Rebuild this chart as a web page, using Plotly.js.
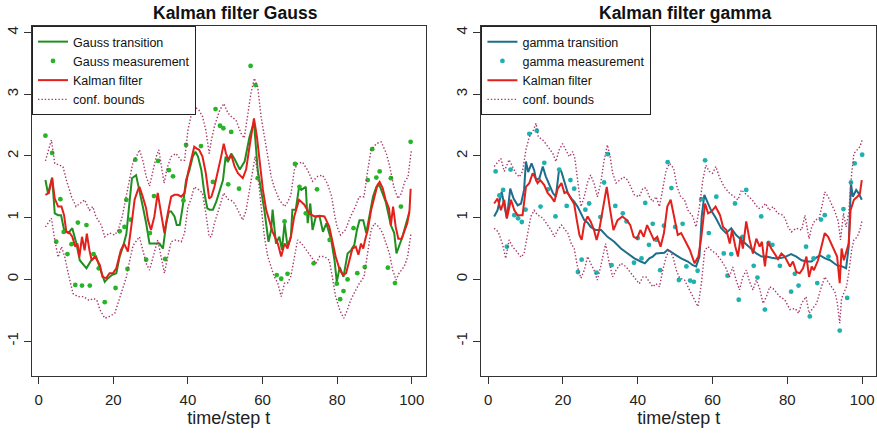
<!DOCTYPE html>
<html>
<head>
<meta charset="utf-8">
<script src="https://cdn.plot.ly/plotly-3.0.1.min.js"></script>
<style>html,body{margin:0;padding:0;background:#fff;}#chart{width:877px;height:433px;}</style>
</head>
<body>
<div id="chart"></div>
<script>
// ---------- Left panel: Gauss ----------
const gaussTransT = [1.8,2.5,3.6,4.3,5.2,6.0,6.8,7.9,9,10.1,11,12.8,14.1,15.4,16.6,17.7,18.6,19.6,20.8,21.7,22.6,23.5,24.4,25,26.1,27,27.9,28.8,29.7,31,32.4,33.3,34.2,34.9,35.5,36.4,37,37.8,38.6,39.5,40.4,41.3,42,42.7,43.6,44.4,45.2,45.8,46.7,47.6,48.5,49.4,50.1,50.7,51.6,52.5,53.9,55.2,56.5,57.7,58.7,59.6,60.5,61.6,62.3,62.7,63.6,64.5,65.2,65.9,66.7,67.6,68,68.9,69.8,70.4,71.6,72.1,72.8,73.4,74.3,75.3,76.2,77.1,78.4,79.3,79.9,80.7,81.7,82.8,83.7,84.6,85.3,86,87,87.8,88.7,89.6,90.5,91.3,92.2,93,94.4,95.3,95.9,96.6,97.5,98.5,99.4];
const gaussTransV = [1.61,1.39,1.65,1.07,1.04,1.04,0.80,0.75,0.83,0.58,0.31,0.18,0.31,0.37,0.15,-0.04,0.02,0.07,0.10,0.37,0.53,0.74,1.29,1.64,1.69,1.45,1.18,0.91,0.58,0.58,0.58,0.50,0.91,1.10,1.10,1.02,0.88,0.88,1.18,1.61,1.77,1.99,2.07,1.99,1.77,1.40,1.15,1.13,1.13,1.26,1.42,1.61,1.99,1.90,2.04,1.95,1.78,1.91,2.31,2.55,1.78,1.45,1.12,0.61,0.80,1.13,0.58,0.69,0.48,0.91,0.53,0.69,1.13,1.13,1.50,1.45,1.50,0.91,1.23,0.80,1.02,1.02,0.77,0.91,0.64,0.31,-0.04,0.20,0.04,0.42,0.47,0.56,0.80,0.96,0.96,0.75,1.07,1.34,1.50,1.53,1.39,1.26,0.88,0.75,0.42,0.53,0.69,0.91,1.09];

const gaussMeasT = [1.8,3.6,4.7,5.8,6.7,7.7,8.8,9.8,10.5,11.6,12.8,13.7,14.7,16.1,17.7,20.6,21.7,23,23.5,23.8,24.6,25.9,28.8,29.8,30.9,32,33.9,34.9,36,38.8,39.5,41.5,43.5,46.7,47.4,48.6,49.5,50.8,51.6,53.7,56.8,58.1,58.7,63.8,65,65.9,66.7,68.7,69.9,71.6,73.7,74.6,78,79.9,80.8,81.7,82.8,84.4,85.4,87.4,88.2,89.4,90.5,91.4,93.6,94.4,95.5,97.1,99.7];
const gaussMeasV = [2.33,2.05,0.61,1.30,0.77,0.41,0.57,-0.09,0.92,-0.10,0.88,-0.10,0.41,0.18,-0.37,-0.14,0.78,0.85,1.29,0.17,0.97,1.94,0.32,0.75,1.35,1.92,0.33,1.77,1.67,1.28,2.18,2.81,2.16,1.58,2.76,2.49,2.45,1.54,2.39,1.47,3.46,3.15,1.64,0.07,0.01,0.94,0.09,1.87,1.50,1.07,0.26,1.46,0.64,-0.07,-0.32,-0.19,0.00,0.83,0.10,0.20,1.61,2.11,1.65,1.75,0.19,1.64,-0.06,1.18,2.23];

const gaussKalT = [1.8,2.7,3.6,4.3,5.2,6.1,6.8,7.4,8.1,9,9.8,10.4,10.9,11.6,12.3,12.9,13.6,14.2,15.1,16.4,17.1,18.1,19,19.9,20.8,22,22.9,23.9,24.8,25.7,26.6,27,27.9,28.8,29.3,30.1,31,31.9,32.8,33.7,34.6,35.5,36.4,37.3,38.2,39.1,40,40.8,41.7,42.4,43,43.9,44.8,45.7,46.3,47.1,48,48.9,49.6,50.2,50.9,51.6,52.5,53.4,54.7,55.6,56.5,57.7,58.5,59.2,60.1,61,61.9,62.7,64.1,65,65.9,66.7,67.6,68.5,69.8,71.2,72.5,73.9,75.3,76.6,77.9,78.7,79.6,80.7,81.6,82.4,83.2,84.1,85,85.7,86.4,87,87.5,88.2,89.1,90,90.8,91.4,92.2,93,93.9,94.4,95,95.7,96.4,97.3,98.2,98.8,99.4,99.7];
const gaussKalV = [1.37,1.40,1.64,1.31,1.18,1.18,1.04,0.77,0.77,0.69,0.53,0.58,0.36,0.69,0.47,0.74,0.47,0.31,0.37,0.23,0.04,0.02,0.10,0.10,0.18,0.47,0.58,0.45,0.85,1.29,1.45,1.50,1.34,1.15,0.96,0.80,1.02,1.40,1.07,0.75,1.07,1.34,1.37,1.37,1.34,1.40,1.72,1.94,2.15,2.12,2.10,1.99,1.72,1.31,1.34,1.50,1.72,1.99,2.20,2.04,1.94,2.02,1.83,1.72,1.64,1.78,2.15,2.61,2.31,1.88,1.45,1.12,0.91,0.77,0.58,0.37,0.58,0.50,0.69,1.02,1.29,1.21,1.07,1.02,1.03,1.02,0.85,0.64,0.37,0.15,0.07,0.10,0.31,0.50,0.53,0.40,0.58,0.50,0.64,0.80,1.12,1.34,1.53,1.58,1.48,1.29,1.15,0.88,1.18,0.85,0.66,0.66,0.80,0.91,1.12,1.47];

const gaussUpT = [1.8,3.4,4.3,6.5,7.4,8.8,10,11,12.3,13.6,14.5,15.3,16.8,17.7,19,20.4,21.3,22.4,23.5,24.4,25.3,26.2,27,27.9,28.8,29.7,30.6,31.5,32.2,32.8,33.6,34.5,35.5,36.8,38.2,39.1,40,40.8,41.7,43,43.9,44.8,45.7,46.3,47.1,48.5,49.6,50.7,51.6,52.9,54.2,55.1,56,56.9,57.8,58.7,59.6,60.3,61.4,62.3,63.1,64.5,65.9,66.7,67.6,68.5,69.4,70.7,72.1,73.4,74.8,76.1,77.4,78.5,79.3,80,80.9,82.2,83.6,84.9,85.9,87.2,88.2,89.1,90.5,91.8,93.2,94.1,95.2,96.3,97.2,98.1,99,99.9];
const gaussUpV = [1.92,2.26,1.88,1.83,1.61,1.34,1.18,1.23,1.29,1.12,1.18,1.02,0.88,0.69,0.75,0.72,0.80,1.02,1.34,1.64,1.91,1.99,2.10,1.93,1.67,1.51,1.77,1.99,2.10,1.88,1.56,1.82,1.99,2.04,1.93,1.93,2.42,2.64,2.80,2.74,2.64,2.42,2.04,2.26,2.48,2.74,2.85,2.70,2.64,2.58,2.37,2.29,2.69,3.02,3.26,3.12,2.64,2.37,1.94,1.67,1.50,1.29,1.18,1.25,1.37,1.77,1.88,1.90,1.77,1.59,1.67,1.69,1.55,1.35,1.05,0.85,0.72,0.80,1.02,1.18,1.34,1.34,1.77,2.10,2.20,2.23,2.04,1.83,1.50,1.31,1.39,1.58,1.66,2.10];

const gaussLoT = [1.8,3.4,4.3,5.2,6.1,7,7.9,9.2,10.5,12,13.5,14.8,15.6,16.4,17.7,19,20.4,21.5,22.6,23.5,24.4,25.3,27,27.9,28.8,29.7,31,31.9,32.8,33.7,34.6,35.5,36.8,38.2,39.1,40,40.8,41.7,43,43.9,44.8,45.7,46.3,47.1,48.5,49.6,50.7,51.6,52.5,53.9,54.7,55.6,56.9,58,58.7,59.6,60.5,61.4,62.3,63.1,64.1,65,65.9,66.7,67.6,68.5,69.4,70.5,71.6,73,74.3,75.3,76.6,77.9,78.7,79.6,80.7,81.8,82.7,83.6,84.5,85.9,87.2,88.2,89.1,90,91.2,92.2,93.1,94,94.9,95.8,96.6,98,98.9,99.8];
const gaussLoV = [0.85,0.99,0.64,0.36,0.53,0.36,0.10,-0.23,-0.28,-0.28,-0.34,-0.31,-0.34,-0.49,-0.63,-0.60,-0.55,-0.34,-0.12,0.04,0.31,0.55,0.69,0.48,0.26,0.15,0.42,0.64,0.37,0.10,0.37,0.61,0.64,0.61,0.75,1.18,1.29,1.50,1.45,1.40,1.07,0.69,0.69,0.91,1.18,1.40,1.30,1.28,1.23,1.07,0.96,1.12,1.56,1.99,1.72,1.18,0.69,0.37,0.21,0.05,-0.06,-0.28,-0.06,-0.06,0.05,0.37,0.64,0.58,0.48,0.37,0.26,0.37,0.37,0.31,0.04,-0.28,-0.50,-0.63,-0.50,-0.34,-0.23,-0.07,0.04,0.42,0.80,0.91,0.85,0.75,0.58,0.42,0.15,-0.01,0.10,0.21,0.37,0.75];

// ---------- Right panel: gamma ----------
const gammaTransT = [1.6,2.5,3.6,4.3,5,5.9,6.8,7.9,8.8,9.6,10.1,10.7,11.6,12.3,12.8,13.7,14.6,15.4,16.4,17.3,18.1,19,19.6,20.4,21.3,22.2,23,23.9,24.8,25.7,26.6,27.4,28.8,30.2,31.9,33.7,35.5,37.3,39.1,40.8,41.9,43.1,44,44.9,46.3,47.1,48,48.9,50.3,51.6,53.4,54.7,55.6,56.5,57.1,57.8,58.7,59.6,60.9,62.3,63.6,65,66.3,67.7,69,70.4,71.7,73.1,74.4,75.8,77.1,78.5,79.3,81,82.4,83.8,85.1,86.5,87.4,88.7,90.1,91.4,93.2,94.6,95.7,96.4,97,97.5,98.4,99.1,99.9];
const gammaTransV = [1.02,1.12,1.42,1.18,0.99,1.47,1.31,1.20,1.23,1.45,1.91,1.74,1.88,1.77,1.61,1.64,1.83,1.67,1.53,1.40,1.34,1.80,1.74,1.58,1.40,1.31,1.26,1.18,1.07,0.96,0.92,0.85,0.80,0.80,0.69,0.61,0.50,0.42,0.34,0.29,0.26,0.34,0.37,0.42,0.42,0.43,0.48,0.45,0.39,0.34,0.29,0.23,0.21,0.37,1.02,1.37,1.23,1.12,0.99,0.83,0.75,0.83,0.72,0.64,0.56,0.48,0.42,0.37,0.37,0.35,0.34,0.35,0.36,0.41,0.37,0.31,0.29,0.29,0.34,0.39,0.34,0.31,0.23,0.21,0.18,0.53,1.56,1.34,1.45,1.39,1.29];

const gammaMeasT = [2,3,4,5,6,7,8,9,10,11,13,14,15,16,18,19,21,22,23,24,25,26,27,29,30,31,32,33,34,36,37,39,40,41,42,43,44,45,46,47,48,49,50,51,52,53,54,55,56,57,58,59,61,63,64,65,66,67,68,69,71,72,73,74,75,76,78,81,82,83,85,86,87,88,89,90,91,94,95,96,97,98,100];
const gammaMeasV = [1.75,1.36,1.45,0.53,1.78,1.04,0.99,0.93,1.13,2.36,2.41,1.18,1.89,1.46,1.02,1.78,1.19,1.61,1.47,0.12,0.32,1.13,1.23,0.11,1.01,1.57,2.03,0.23,1.19,1.07,0.94,0.27,0.67,0.34,1.24,0.56,0.90,0.64,0.15,0.87,1.90,1.48,0.85,-0.01,0.90,0.21,-0.02,-0.04,0.14,1.30,1.93,0.75,1.34,0.42,0.06,0.41,1.23,-0.33,0.69,1.45,0.22,0.03,1.02,-0.49,0.59,0.56,0.22,-0.20,0.09,-0.10,0.53,-0.60,0.34,-0.06,0.97,1.04,0.37,-0.83,1.14,-0.30,1.57,1.88,2.02];

const gammaKalT = [1.6,2.5,3.4,4.3,5,6.1,7,7.9,9.2,10.1,11,11.9,12.5,13.2,13.9,15,15.9,16.8,17.7,18.6,19.6,20.4,21.1,22.2,23,23.7,24.4,25,25.7,26.6,27.4,28.3,29,29.7,30.6,31.7,32.6,33.5,34.6,35.9,37.1,38,38.9,39.8,40.7,41.6,42.5,43.4,44.3,45.2,46.1,47,47.9,48.8,49.7,50.7,51.6,52.5,53.9,55.2,56.2,57,58,58.8,59.7,60.8,62,62.8,63.7,64.6,65.2,66.1,66.8,67.5,68.1,69,69.9,70.8,71.7,72.6,73.2,74,74.8,75.7,76.6,77.5,78.4,79.3,80.7,81.5,82.4,83.3,84.2,85.1,85.8,86.5,87.1,88.2,89.1,90,90.9,91.8,92.7,93.3,94,94.5,95.1,95.8,96.4,96.9,97.8,98.7,99.4,99.9];
const gammaKalV = [1.23,1.31,1.12,1.29,0.99,1.29,1.12,1.04,1.04,1.50,1.56,1.72,1.66,1.56,1.61,1.53,1.40,1.34,1.26,1.47,1.56,1.40,1.42,1.29,1.22,0.96,0.72,0.64,0.90,1.02,0.94,0.80,0.64,0.80,1.13,1.50,1.13,0.80,0.96,1.02,0.96,0.88,0.69,0.66,0.80,0.69,0.88,0.77,0.64,0.69,0.53,0.75,1.18,1.29,1.00,0.72,0.75,0.64,0.48,0.26,0.37,0.69,1.23,1.07,1.10,1.18,1.04,0.85,0.80,0.58,0.80,0.53,0.37,0.69,0.50,0.94,0.64,0.42,0.66,0.53,0.61,0.21,0.61,0.50,0.42,0.33,0.42,0.37,0.21,0.29,0.12,0.10,0.18,0.37,0.04,0.21,0.15,0.31,0.53,0.75,0.69,0.56,0.45,0.37,-0.06,0.50,0.31,0.47,0.58,1.12,1.29,1.34,1.39,1.61];

const gammaUpT = [1.6,3.4,4.3,5.6,6.5,7.4,8.3,9.2,10.1,11,12.1,12.8,13.4,14.6,15.4,16.4,17.3,18.1,19,19.9,20.8,21.7,22.6,23.2,23.9,24.8,25.7,26.6,27.4,28.3,29.2,30.1,31,31.9,32.6,33.3,34.2,35.1,36.2,37.3,38.2,39.1,40.4,41.4,42.2,43.1,44,44.9,45.8,46.7,47.6,48.5,49.6,50.5,51.4,52.5,53.4,54.7,55.6,56.5,57.4,58.2,59.1,60,60.9,61.8,63.1,64.5,65.9,66.8,67.7,68.6,69.6,70.6,71.5,72.4,73.3,74.2,75.1,76.2,77.4,78.5,79.3,80.2,81.1,82.4,83.8,84.7,85.8,86.5,87.4,88.5,89.4,90,90.9,91.8,92.7,93.6,94.2,95,95.7,96.4,97.2,97.8,98.7,99.4,100];
const gammaUpV = [1.83,1.96,1.75,1.94,1.83,1.72,1.66,1.75,2.10,2.31,2.42,2.53,2.31,2.26,2.20,2.12,2.04,1.91,2.10,2.20,2.10,1.99,2.07,1.96,1.61,1.18,1.34,1.58,1.69,1.56,1.34,1.56,1.93,2.18,1.99,1.72,1.56,1.61,1.66,1.61,1.50,1.37,1.34,1.48,1.48,1.34,1.26,1.34,1.18,1.45,1.77,1.88,1.80,1.50,1.35,1.29,1.12,1.02,0.85,1.18,1.61,1.85,1.75,1.72,1.83,1.66,1.50,1.40,1.34,1.29,1.45,1.40,1.34,1.29,1.21,1.15,1.17,1.23,1.12,1.18,1.07,1.05,1.00,0.85,0.77,0.83,0.80,1.04,0.66,0.85,0.96,0.99,1.23,1.42,1.34,1.23,1.10,0.94,0.64,1.07,0.85,1.07,1.72,2.04,2.10,2.15,2.26];

const gammaLoT = [1.6,2.7,3.8,4.7,5.6,6.5,7.4,8.8,9.6,10.5,11.4,12.3,13.2,14.1,15,15.9,16.8,17.7,18.6,19.6,20.5,21.3,22.2,23,23.9,24.8,25.7,26.6,27.4,28.3,29.2,30.1,31.4,32.4,33.3,34.2,35.5,36.8,38.2,39.5,40.4,41.4,42.2,43.1,44,44.9,45.8,46.7,47.6,48.5,49.4,50.3,51.2,52.5,53.9,55.2,56.1,57,57.9,58.8,59.7,60.9,62.3,63.6,64.5,65.4,66.3,67.2,68.1,69,69.9,70.8,71.7,72.6,73.5,74.4,75.3,76.2,77.1,78,79.3,80.7,82.1,83,83.8,85,85.8,86.5,87.8,89.1,90,90.9,91.8,92.7,93.3,94,94.5,95.1,95.8,96.4,97.2,97.8,98.7,99.4,100];
const gammaLoV = [0.83,0.77,0.58,0.34,0.64,0.53,0.47,0.36,0.42,0.75,1.02,1.12,1.04,1.02,0.96,0.88,0.80,0.69,0.80,0.88,0.80,0.75,0.58,0.50,0.20,0.02,0.15,0.37,0.26,0.15,-0.01,0.21,0.58,0.26,0.04,0.15,0.26,0.21,0.10,-0.01,-0.07,0.04,0.04,-0.04,-0.12,-0.07,-0.12,0.15,0.37,0.48,0.37,0.15,0.02,-0.01,-0.17,-0.33,-0.44,-0.07,0.47,0.53,0.47,0.42,0.31,0.18,0.04,0.20,-0.01,-0.17,0.04,0.15,-0.04,-0.17,-0.01,-0.15,-0.39,-0.28,-0.12,-0.15,-0.22,-0.28,-0.33,-0.49,-0.47,-0.55,-0.39,-0.28,-0.55,-0.49,-0.39,-0.12,0.04,-0.04,-0.12,-0.20,-0.36,-0.71,-0.31,-0.23,-0.12,0.10,0.48,0.64,0.69,0.80,0.96];

const xTicks = [0,20,40,60,80,100];
const yTicks = [-1,0,1,2,3,4];
const yTickText = ['-1','0','1','2','3','4'];

// ---------- styling ----------
const FONT = 'Liberation Sans, Arial, Helvetica, sans-serif';
const C = {
  gTrans:'#1f8f1f', gMeas:'#27b427', kal:'#e3201b', bound:'#a8386a',
  bTrans:'#1d6e8c', bMeas:'#1fb0b0'
};
function bounds(upT, upV, loT, loV){
  return {x: upT.concat([null], loT), y: upV.concat([null], loV)};
}
function panel(ax, ay, lg, names, trT, trV, trC, msT, msV, msC, klT, klV, upT, upV, loT, loV){
  const b = bounds(upT, upV, loT, loV);
  return [
    {type:'scatter', mode:'lines', name:names[0], x:trT, y:trV, xaxis:ax, yaxis:ay, legend:lg,
     line:{color:trC, width:2}},
    {type:'scatter', mode:'markers', name:names[1], x:msT, y:msV, xaxis:ax, yaxis:ay, legend:lg,
     marker:{color:msC, size:4.8}},
    {type:'scatter', mode:'lines', name:'Kalman filter', x:klT, y:klV, xaxis:ax, yaxis:ay, legend:lg,
     line:{color:C.kal, width:2}},
    {type:'scatter', mode:'lines', name:'conf. bounds', x:b.x, y:b.y, xaxis:ax, yaxis:ay, legend:lg,
     connectgaps:false, line:{color:C.bound, width:1.4, dash:'1.4px,2px'}}
  ];
}
const data = [].concat(
  panel('x','y','legend',['Gauss transition','Gauss measurement'], gaussTransT, gaussTransV, C.gTrans,
        gaussMeasT, gaussMeasV, C.gMeas, gaussKalT, gaussKalV, gaussUpT, gaussUpV, gaussLoT, gaussLoV),
  panel('x2','y2','legend2',['gamma transition','gamma measurement'], gammaTransT, gammaTransV, C.bTrans,
        gammaMeasT, gammaMeasV, C.bMeas, gammaKalT, gammaKalV, gammaUpT, gammaUpV, gammaLoT, gammaLoV)
);

function xAxis(domain, anchor){
  return {domain:domain, anchor:anchor, range:[-1.8,103.7], tickmode:'array', tickvals:xTicks,
    ticks:'outside', ticklen:7, tickwidth:1, tickcolor:'#333', showline:true, mirror:true,
    linecolor:'#333', linewidth:1, showgrid:false, zeroline:false, fixedrange:true,
    tickfont:{size:15, color:'#222'}, ticklabelstandoff:3,
    title:{text:'time/step t', font:{size:18, color:'#222'}, standoff:4}};
}
function yAxis(anchor){
  return {domain:[0,1], anchor:anchor, range:[-1.566,4.107], tickmode:'array', tickvals:yTicks, ticktext:yTickText,
    tickangle:-90, ticks:'outside', ticklen:7, tickwidth:1, tickcolor:'#333', showline:true, mirror:true,
    linecolor:'#333', linewidth:1, showgrid:false, zeroline:false, fixedrange:true,
    tickfont:{size:15, color:'#222'}};
}
const legendBase = {y:1, yanchor:'top', xanchor:'left', bgcolor:'#fff', bordercolor:'#222', borderwidth:1,
  font:{size:12.5, color:'#111', family:FONT}, tracegroupgap:0, itemwidth:30};

const layout = {
  width:877, height:433,
  margin:{l:32, r:1, t:26, b:57},
  paper_bgcolor:'#fff', plot_bgcolor:'#fff',
  font:{family:FONT, color:'#111'},
  showlegend:true,
  xaxis: xAxis([0,0.4663],'y'),
  yaxis: yAxis('x'),
  xaxis2: xAxis([0.5325,1],'y2'),
  yaxis2: yAxis('x2'),
  legend: Object.assign({x:0}, legendBase),
  legend2: Object.assign({x:0.5325}, legendBase),
  annotations:[
    {text:'<b>Kalman filter Gauss</b>', xref:'paper', yref:'paper', x:0.2414, y:1.038, xanchor:'center', yanchor:'middle',
     showarrow:false, font:{size:17.5, color:'#111', family:FONT}},
    {text:'<b>Kalman filter gamma</b>', xref:'paper', yref:'paper', x:0.7734, y:1.038, xanchor:'center', yanchor:'middle',
     showarrow:false, font:{size:17.5, color:'#111', family:FONT}}
  ]
};
Plotly.newPlot('chart', data, layout, {displayModeBar:false, staticPlot:true});
</script>
</body>
</html>
